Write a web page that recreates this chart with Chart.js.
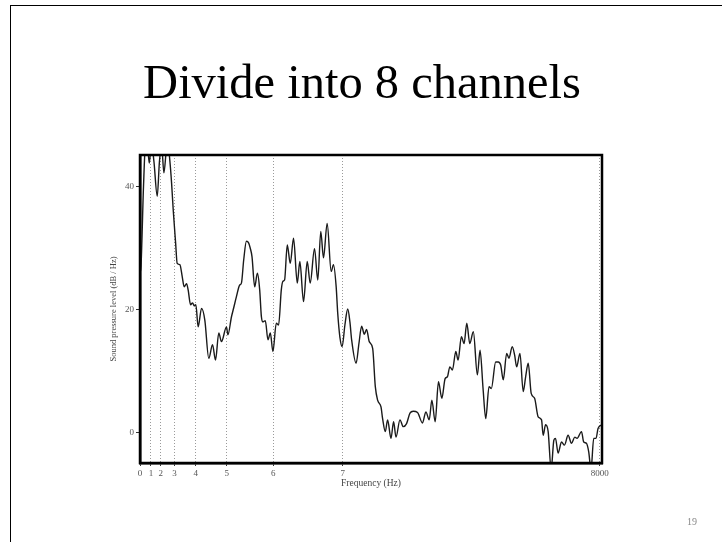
<!DOCTYPE html>
<html>
<head>
<meta charset="utf-8">
<script src="https://cdn.jsdelivr.net/npm/chart.js@4.4.1/dist/chart.umd.min.js"></script>
<style>
  html, body { margin: 0; padding: 0; background: #fff; width: 722px; height: 542px; overflow: hidden; }
  #frame { position: absolute; left: 10px; top: 5px; right: 0; bottom: 0; border-left: 1.5px solid #000; border-top: 1.5px solid #000; }
  #title { position: absolute; left: 0; top: 58px; width: 724px; text-align: center; font-family: "Liberation Serif", serif; font-size: 48.5px; color: #000; line-height: 1; }
  #num { position: absolute; left: 687px; top: 516px; font-family: "Liberation Serif", serif; font-size: 10px; color: #888; }
  #chart { position: absolute; left: 0; top: 0; }
</style>
</head>
<body>
<div id="frame"></div>
<div id="title">Divide into 8 channels</div>
<canvas id="chart" width="722" height="542"></canvas>
<div id="num">19</div>
<script>
// Spectrum: frequency (Hz) and level (dB / Hz)
const freqHz = [0,17,61,95,121,161,200,243,300,338,377,416,460,491,521,550,578,620,647,694,734,769,810,838,880,915,946,972,1012,1071,1128,1197,1262,1314,1371,1418,1505,1530,1591,1631,1678,1735,1765,1805,1852,1892,1918,1949,1996,2043,2083,2112,2140,2181,2227,2268,2313,2372,2412,2459,2487,2516,2563,2615,2672,2737,2782,2846,2910,2962,3037,3094,3146,3193,3257,3327,3367,3414,3441,3479,3518,3566,3615,3653,3683,3761,3810,3857,3904,3943,3990,4049,4095,4135,4194,4222,4269,4309,4368,4413,4455,4524,4581,4639,4698,4755,4830,4916,4975,5033,5079,5137,5194,5253,5310,5350,5392,5437,5496,5536,5593,5640,5687,5739,5801,5871,5918,5970,6017,6074,6114,6190,6235,6277,6322,6381,6421,6478,6520,6555,6612,6669,6711,6756,6808,6867,6929,6988,7016,7058,7103,7155,7202,7231,7276,7335,7387,7450,7509,7566,7606,7683,7722,7769,7809,7849,7896,7936,7971,8040];
const levelDb = [26,27,40,47,47.5,43.8,47,44,38.4,44,46.5,42.2,46,46.5,44,40.5,36.2,30.8,27.5,27.3,25.4,23.7,24.2,23.2,20.8,21.1,20.6,20.8,17.2,20.2,18.3,12.1,14.3,11.8,16.2,14.8,17.2,15.9,18.8,20.3,22.1,24.0,24.3,28.1,31.1,30.8,30.0,28.6,23.7,25.9,23.2,18.9,18.0,18.2,15.1,16.2,13.2,17.8,17.5,23.2,24.6,24.8,30.5,27.5,31.6,24.3,27.8,21.3,27.8,24.3,29.9,24.8,32.7,28.4,34.0,26.2,27.3,23.7,19.4,15.5,14.0,17.5,20.1,18.0,15.1,11.3,14.5,17.3,16.0,16.8,14.8,13.7,7.5,5.3,4.2,2.3,0.2,2.1,-0.9,1.8,-0.7,2.1,1.0,1.5,3.2,3.5,3.3,1.6,3.4,2.1,5.3,1.8,8.3,5.6,8.8,9.1,10.7,10.2,13.2,11.8,15.6,14.5,17.8,14.5,16.4,9.4,13.4,7.2,2.3,7.5,7.2,11.5,11.5,11.0,8.6,12.9,12.1,14.0,12.6,10.7,12.9,6.7,9.1,11.3,6.4,5.6,2.6,2.1,-0.4,1.3,0.2,-6,-1.2,-0.9,-3.3,-1.5,-2.0,-0.4,-1.7,-0.7,-0.9,0.2,-1.5,-1.7,-3.1,-6,-0.9,-0.9,0.7,1.3];

// Channel boundaries and their labels
const boundaryHz = [0, 190, 360, 600, 970, 1510, 2320, 3530, 8000];
const boundaryLabels = ['0', '1', '2', '3', '4', '5', '6', '7', '8000'];

// Level axis ticks
const levelTicks = [0, 20, 40];

const points = freqHz.map((f, i) => ({ x: f, y: levelDb[i] }));

const serif = 'Liberation Serif';

// Heavy box around the plot area
const plotBox = {
  id: 'plotBox',
  afterDraw(chart) {
    const { ctx, chartArea: a } = chart;
    ctx.save();
    ctx.strokeStyle = '#000';
    ctx.lineWidth = 2.5;
    ctx.strokeRect(a.left, a.top, a.right - a.left, a.bottom - a.top);
    ctx.restore();
  }
};

new Chart(document.getElementById('chart'), {
  type: 'line',
  data: {
    datasets: [{
      data: points,
      borderColor: '#1a1a1a',
      borderWidth: 1.4,
      pointRadius: 0,
      cubicInterpolationMode: 'monotone',
      fill: false
    }]
  },
  options: {
    responsive: false,
    animation: false,
    layout: { padding: { left: 108, top: 155, right: 120, bottom: 51 } },
    plugins: { legend: { display: false }, tooltip: { enabled: false } },
    scales: {
      x: {
        type: 'linear',
        min: 0,
        max: 8040,
        afterFit(s) { s.height = 28; },
        afterBuildTicks(s) { s.ticks = boundaryHz.map(v => ({ value: v })); },
        ticks: {
          autoSkip: false,
          maxRotation: 0,
          padding: 2,
          color: '#555',
          font: { family: serif, size: 9 },
          callback: (v, i) => boundaryLabels[i]
        },
        grid: { color: '#9a9a9a', lineWidth: 1, tickColor: '#333', tickLength: 3, tickBorderDash: [] },
        border: { display: true, color: '#000', width: 2.5, dash: [1, 2] },
        title: { display: true, text: 'Frequency (Hz)', color: '#444', font: { family: serif, size: 9.5 }, padding: { top: 0, bottom: 2 } }
      },
      y: {
        min: -4.9,
        max: 45.1,
        afterFit(s) { s.width = 32; },
        afterBuildTicks(s) { s.ticks = levelTicks.map(v => ({ value: v })); },
        ticks: { padding: 2, color: '#555', font: { family: serif, size: 9 } },
        grid: { drawOnChartArea: false, tickLength: 4, tickColor: '#333' },
        border: { display: true, color: '#000', width: 2.5 },
        title: { display: true, text: 'Sound pressure level (dB / Hz)', color: '#444', font: { family: serif, size: 8.5 }, padding: { top: 1, bottom: 0 } }
      }
    }
  },
  plugins: [plotBox]
});
</script>
</body>
</html>
